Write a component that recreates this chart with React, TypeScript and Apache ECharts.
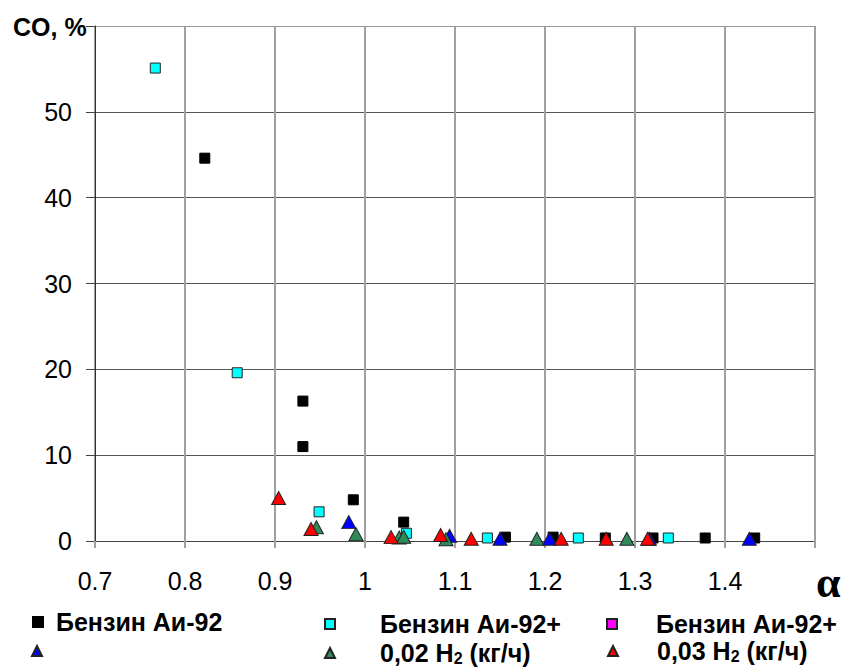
import React, { useEffect, useRef } from "react";
import * as echarts from "echarts";

// Data (x = α, y = CO, %)
const blackX = [0.822, 0.931, 0.931, 0.987, 1.043, 1.156, 1.209, 1.267, 1.32, 1.378, 1.433];
const blackY = [44.6, 16.3, 11.0, 4.8, 2.2, 0.45, 0.45, 0.35, 0.35, 0.35, 0.35];

const cyanX = [0.767, 0.858, 0.949, 1.046, 1.136, 1.237, 1.337];
const cyanY = [55.1, 19.6, 3.4, 0.9, 0.35, 0.35, 0.35];

const magentaX: number[] = [];
const magentaY: number[] = [];

const blueX = [0.982, 1.094, 1.15, 1.205, 1.316, 1.427];
const blueY = [2.2, 0.6, 0.25, 0.25, 0.25, 0.25];

const greenX = [0.946, 0.99, 1.038, 1.043, 1.09, 1.191, 1.291];
const greenY = [1.6, 0.8, 0.4, 0.5, 0.2, 0.25, 0.25];

const redX = [0.904, 0.94, 1.029, 1.084, 1.118, 1.218, 1.268, 1.314];
const redY = [5.0, 1.4, 0.45, 0.7, 0.25, 0.25, 0.25, 0.25];

const seriesNames = [
  "Бензин Аи-92",
  "Бензин Аи-92+",
  "Бензин Аи-92+ ",
  "Бензин Аи-92+ 0,01 H2",
  "0,02 H2 (кг/ч)",
  "0,03 H2 (кг/ч)",
];
const legendLabels = [
  "Бензин Аи-92",
  "Бензин Аи-92+",
  "Бензин Аи-92+",
  "",
  "0,02 H{sub|2} (кг/ч)",
  "0,03 H{sub|2} (кг/ч)",
];

const xTicks = { min: 0.7, max: 1.5, interval: 0.1 };
const yTicks = { min: 0, max: 60, interval: 10 };

const FONT = "'Liberation Sans', Arial, sans-serif";

const zip = (xs: number[], ys: number[]) => xs.map((x, i) => [x, ys[i]]);

export default function App() {
  const ref = useRef<HTMLDivElement>(null);

  useEffect(() => {
    if (!ref.current) return;
    const chart = echarts.init(ref.current, null, { renderer: "svg" });

    const legendText = {
      fontFamily: FONT,
      fontSize: 25,
      fontWeight: "bold" as const,
      color: "#000",
      lineHeight: 26,
      rich: {
        sub: {
          fontFamily: FONT,
          fontSize: 16,
          fontWeight: "bold" as const,
          color: "#000",
          verticalAlign: "bottom" as const,
          padding: [8, 0, 0, 0],
        },
      },
    };

    const mkLegend = (idx: number, icon: string, left: number, top: number, padLeft: number) => ({
      data: [{ name: seriesNames[idx], icon }],
      left,
      top,
      itemWidth: 10,
      itemHeight: 10,
      itemGap: 0,
      padding: 0,
      selectedMode: false,
      formatter: () => legendLabels[idx],
      textStyle: { ...legendText, padding: [0, 0, 0, padLeft] },
    });

    const markerBorder = { borderColor: "#222", borderWidth: 1, opacity: 1 };

    chart.setOption({
      animation: false,
      backgroundColor: "#fff",
      grid: { left: 95, right: 30, top: 26, bottom: 129, containLabel: false },
      xAxis: {
        type: "value",
        min: xTicks.min,
        max: xTicks.max,
        interval: xTicks.interval,
        axisLine: { onZero: true, lineStyle: { color: "#444", width: 1 } },
        axisTick: { show: true, length: 7, lineStyle: { color: "#a0a0a0", width: 2 } },
        splitLine: { show: true, lineStyle: { color: "#a0a0a0", width: 2 } },
        axisLabel: {
          margin: 27,
          fontFamily: FONT,
          fontSize: 25,
          color: "#000",
          formatter: (v: number) =>
            Math.abs(v - xTicks.max) < 1e-6 ? "" : String(Math.round(v * 10) / 10),
        },
      },
      yAxis: {
        type: "value",
        min: yTicks.min,
        max: yTicks.max,
        interval: yTicks.interval,
        axisLine: { show: true, lineStyle: { color: "#333", width: 1 } },
        axisTick: { show: true, length: 9, lineStyle: { color: "#444", width: 1 } },
        splitLine: {
          show: true,
          lineStyle: {
            color: ["#555", "#555", "#555", "#555", "#555", "#555", "#999"],
            width: 1,
          },
        },
        axisLabel: {
          margin: 23,
          fontFamily: FONT,
          fontSize: 25,
          color: "#000",
          formatter: (v: number) => (v >= yTicks.max ? "" : String(v)),
        },
      },
      legend: [
        mkLegend(0, "rect", 32, 609, 8),
        mkLegend(1, "rect", 324, 611, 40),
        mkLegend(2, "rect", 606, 611, 34),
        mkLegend(3, "triangle", 31, 645, 0),
        mkLegend(4, "triangle", 324, 640, 40),
        mkLegend(5, "triangle", 607, 638, 34),
      ],
      graphic: [
        {
          type: "text",
          left: 13,
          top: 14,
          style: {
            text: "CO, %",
            fontFamily: FONT,
            fontSize: 25,
            fontWeight: "bold",
            fill: "#000",
          },
        },
        {
          type: "text",
          left: 816,
          top: 560,
          style: {
            text: "α",
            fontFamily: "'Liberation Serif', 'Times New Roman', serif",
            fontSize: 44,
            fontWeight: "bold",
            fill: "#000",
          },
        },
      ],
      series: [
        {
          name: seriesNames[0],
          type: "scatter",
          symbol: "rect",
          symbolSize: 10,
          itemStyle: { color: "#000", borderColor: "#000", borderWidth: 1, opacity: 1 },
          data: zip(blackX, blackY),
        },
        {
          name: seriesNames[1],
          type: "scatter",
          symbol: "rect",
          symbolSize: 10,
          itemStyle: { color: "#00ffff", ...markerBorder },
          data: zip(cyanX, cyanY),
        },
        {
          name: seriesNames[2],
          type: "scatter",
          symbol: "rect",
          symbolSize: 10,
          itemStyle: { color: "#ff00ff", ...markerBorder },
          data: zip(magentaX, magentaY),
        },
        {
          name: seriesNames[3],
          type: "scatter",
          symbol: "triangle",
          symbolSize: [14, 13],
          itemStyle: { color: "#0000ff", ...markerBorder },
          data: zip(blueX, blueY),
        },
        {
          name: seriesNames[4],
          type: "scatter",
          symbol: "triangle",
          symbolSize: [14, 13],
          itemStyle: { color: "#2e8b57", ...markerBorder },
          data: zip(greenX, greenY),
        },
        {
          name: seriesNames[5],
          type: "scatter",
          symbol: "triangle",
          symbolSize: [14, 13],
          itemStyle: { color: "#ff0000", ...markerBorder },
          data: zip(redX, redY),
        },
      ],
    });

    return () => chart.dispose();
  }, []);

  return (
    <div
      ref={ref}
      style={{ position: "absolute", left: 0, top: 0, width: 845, height: 670 }}
    />
  );
}
